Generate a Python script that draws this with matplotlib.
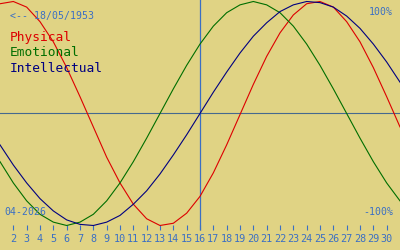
import matplotlib
matplotlib.use("Agg")
import matplotlib.pyplot as plt

days = list(range(1, 32))
tick_days = list(range(2, 31))
today = 16

physical = [0.98, 1.00, 0.95, 0.82, 0.64, 0.41, 0.15, -0.12, -0.39, -0.62,
            -0.81, -0.94, -1.00, -0.98, -0.89, -0.74, -0.53, -0.28, -0.01, 0.26,
            0.51, 0.72, 0.88, 0.98, 1.00, 0.95, 0.82, 0.64, 0.41, 0.15, -0.12]
emotional = [-0.43, -0.62, -0.78, -0.90, -0.97, -1.00, -0.97, -0.90, -0.78, -0.62,
             -0.43, -0.22, 0.00, 0.22, 0.43, 0.62, 0.78, 0.90, 0.97, 1.00,
             0.97, 0.90, 0.78, 0.62, 0.43, 0.22, 0.00, -0.22, -0.43, -0.62, -0.78]
intellectual = [-0.28, -0.46, -0.62, -0.76, -0.87, -0.95, -0.99, -1.00, -0.97, -0.91,
                -0.81, -0.69, -0.54, -0.37, -0.19, 0.00, 0.19, 0.37, 0.54, 0.69,
                0.81, 0.91, 0.97, 1.00, 0.99, 0.95, 0.87, 0.76, 0.62, 0.46, 0.28]

birth_label = "<-- 18/05/1953"
month_label = "04-2026"

bg = "#e0d384"
blue = "#3a6fc4"
mono = "DejaVu Sans Mono"

fig = plt.figure(figsize=(4, 2.5), dpi=100)
fig.patch.set_facecolor(bg)
ax = fig.add_axes([0, 0, 1, 1])
ax.set_facecolor(bg)

ax.set_xlim(1, 31)
ax.set_ylim(-1.2188, 1.0134)

ax.axhline(0, color="#46698f", lw=0.8)
ax.vlines(today, -1.04, 1.1, color=blue, lw=0.9)

ax.plot(days, physical, color="#dd0000", lw=0.8)
ax.plot(days, emotional, color="#006e00", lw=0.8)
ax.plot(days, intellectual, color="#000080", lw=0.8)

for s in ["top", "left", "right"]:
    ax.spines[s].set_visible(False)
ax.spines["bottom"].set_position(("data", -1.04))
ax.spines["bottom"].set_visible(False)
ax.set_yticks([])
ax.set_xticks(tick_days)
ax.set_xticklabels([str(d) for d in tick_days], fontsize=7.3, family=mono, color=blue)
ax.tick_params(axis="x", direction="in", length=3.8, width=0.8, color=blue, pad=2.8)

ax.text(0.025, 0.936, birth_label, transform=ax.transAxes, fontsize=7.1,
        family=mono, color=blue, va="center")
ax.text(0.982, 0.952, "100%", transform=ax.transAxes, fontsize=7.1,
        family=mono, color=blue, va="center", ha="right")
ax.text(0.982, 0.152, "-100%", transform=ax.transAxes, fontsize=7.1,
        family=mono, color=blue, va="center", ha="right")
ax.text(0.01, 0.152, month_label, transform=ax.transAxes, fontsize=7.1,
        family=mono, color=blue, va="center")

ax.text(0.025, 0.848, "Physical", transform=ax.transAxes, fontsize=9.3,
        family=mono, color="#dd0000", va="center")
ax.text(0.025, 0.788, "Emotional", transform=ax.transAxes, fontsize=9.3,
        family=mono, color="#006e00", va="center")
ax.text(0.025, 0.728, "Intellectual", transform=ax.transAxes, fontsize=9.3,
        family=mono, color="#000080", va="center")

fig.savefig("out.png", dpi=100, facecolor=bg)
